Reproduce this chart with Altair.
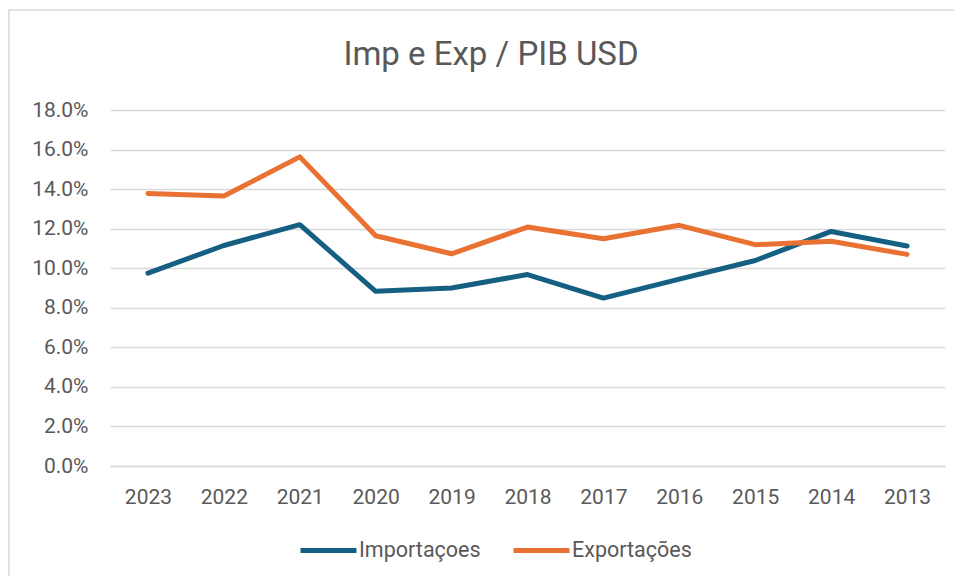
import altair as alt
import pandas as pd

years = ["2023", "2022", "2021", "2020", "2019", "2018", "2017", "2016", "2015", "2014", "2013"]
importacoes = [9.75, 11.15, 12.20, 8.83, 9.00, 9.68, 8.49, 9.45, 10.39, 11.86, 11.12]
exportacoes = [13.78, 13.65, 15.63, 11.64, 10.73, 12.08, 11.49, 12.17, 11.19, 11.36, 10.70]
series_names = ["Importaçoes", "Exportações"]
series_colors = ["#156082", "#E97132"]
y_ticks = [0.0, 0.02, 0.04, 0.06, 0.08, 0.10, 0.12, 0.14, 0.16, 0.18]
title_text = ["Imp e Exp / PIB USD"]

rows = []
for name, vals in zip(series_names, [importacoes, exportacoes]):
    for yr, v in zip(years, vals):
        rows.append({"ano": yr, "serie": name, "valor": v / 100.0})
df = pd.DataFrame(rows)

FONT = "Roboto"
GREY = "#595959"
GRID = "#D9D9D9"

lines = alt.Chart(df).mark_line(strokeWidth=5, strokeCap="round", strokeJoin="round").encode(
    x=alt.X("ano:O", sort=years, title=None,
            axis=alt.Axis(labelAngle=0, ticks=False, domainColor=GRID, domainWidth=1.5,
                          labelFontSize=21, labelColor=GREY, labelFont=FONT, labelPadding=20, grid=False)),
    y=alt.Y("valor:Q", title=None,
            scale=alt.Scale(domain=[0, 0.18], nice=False),
            axis=alt.Axis(values=y_ticks, format=".1%", domain=False, ticks=False,
                          gridColor=GRID, gridWidth=1.5, labelFontSize=21, labelColor=GREY,
                          labelFont=FONT, labelPadding=22)),
    color=alt.Color("serie:N", sort=series_names,
                    scale=alt.Scale(domain=series_names, range=series_colors),
                    legend=alt.Legend(title=None, orient="none", direction="horizontal",
                                      legendX=188, legendY=410, symbolType="stroke",
                                      symbolSize=3136, symbolStrokeWidth=5,
                                      labelFontSize=21.5, labelColor=GREY, labelFont=FONT,
                                      labelOffset=0, columnPadding=22)),
)

border = alt.Chart(alt.Data(values=[{"a": 1}])).mark_rect(
    filled=False, stroke=GRID, strokeWidth=1.5
).encode(
    x=alt.value(-101), x2=alt.value(1500), y=alt.value(-100), y2=alt.value(1500)
)

title = alt.Chart(alt.Data(values=[{"t": t} for t in title_text])).mark_text(
    font=FONT, fontSize=33, color=GREY, align="center", baseline="middle"
).encode(
    text="t:N", x=alt.value(381), y=alt.value(-55)
)

chart = alt.layer(border, lines, title).properties(
    width=835, height=356,
    autosize=alt.AutoSizeParams(type="none"),
    padding={"left": 102, "top": 102, "right": 9, "bottom": 110},
    background="white",
).configure_view(strokeWidth=0, stroke=None)

chart.save("out.html", embed_options={"renderer": "svg", "actions": False})
